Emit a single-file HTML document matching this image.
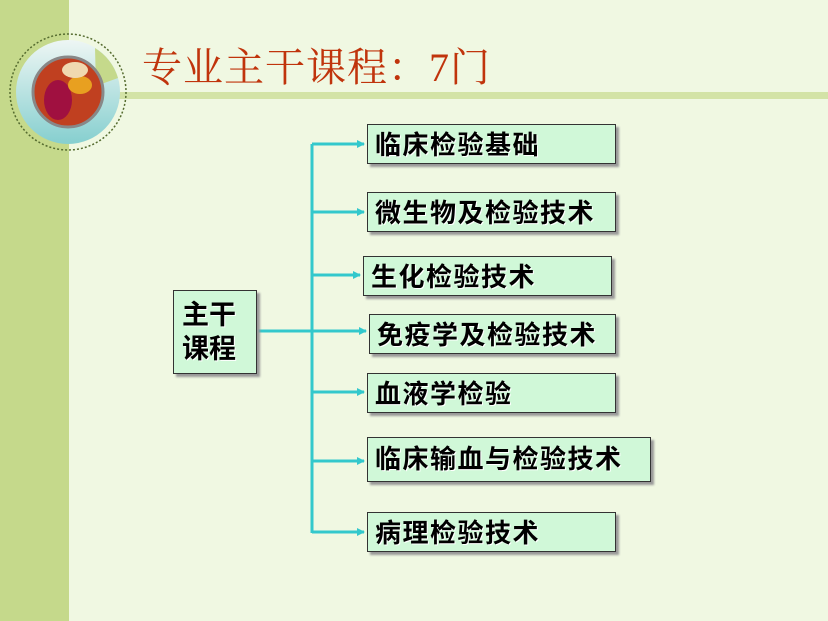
<!DOCTYPE html><html><head><meta charset="utf-8"><style>
body{margin:0;width:828px;height:621px;position:relative;overflow:hidden;background:#f0f8e2;font-family:"Liberation Sans","Noto Sans CJK SC",sans-serif}
.strip{position:absolute;left:0;top:0;width:69px;height:621px;background:#c5d98b}
.band{position:absolute;left:118px;top:92px;width:710px;height:7px;background:#d3e3a6}
.title{position:absolute;left:142px;top:36px;font-family:"Liberation Serif","Noto Serif CJK SC",serif;font-size:40px;color:#c0340c;letter-spacing:1px}
.b{position:absolute;background:#d0f8d8;border:1px solid #333;box-shadow:3px 3px 2px #999;font-weight:bold;font-size:26px;letter-spacing:1.5px;color:#000;text-shadow:1px 1px 0 #fff;line-height:40px;padding-left:7px;box-sizing:border-box;white-space:nowrap}
</style></head><body>
<div class="strip"></div><div class="band"></div>
<svg style="position:absolute;left:0;top:0" width="828" height="621">
<defs><linearGradient id="g" x1="0" y1="0" x2="0" y2="1"><stop offset="0" stop-color="#eef6f4"/><stop offset="1" stop-color="#86cfcf"/></linearGradient>
<marker id="a" markerWidth="8" markerHeight="8" refX="7" refY="4" orient="auto" markerUnits="userSpaceOnUse"><path d="M0,0L8,4L0,8z" fill="#33c8cc"/></marker></defs>
<circle cx="68" cy="92" r="58" fill="none" stroke="#556b2f" stroke-width="1.5" stroke-dasharray="2,2"/>
<circle cx="68" cy="92" r="52" fill="url(#g)"/>
<path d="M95,48 A52,52 0 0 1 118,78 L96,86 Z" fill="#c5d98b"/>
<circle cx="68" cy="92" r="35" fill="#c04020" stroke="#888" stroke-width="3"/>
<ellipse cx="58" cy="100" rx="14" ry="20" fill="#a01040"/><ellipse cx="80" cy="85" rx="12" ry="9" fill="#e8a020"/><ellipse cx="75" cy="70" rx="13" ry="8" fill="#f0d8b0"/>
<g stroke="#33c8cc" stroke-width="3" fill="none">
<line x1="312" y1="144" x2="312" y2="533"/>
<line x1="257" y1="331" x2="366" y2="331" marker-end="url(#a)"/>
<line x1="312" y1="144" x2="364" y2="144" marker-end="url(#a)"/>
<line x1="312" y1="212" x2="364" y2="212" marker-end="url(#a)"/>
<line x1="312" y1="275" x2="360" y2="275" marker-end="url(#a)"/>
<line x1="312" y1="392" x2="364" y2="392" marker-end="url(#a)"/>
<line x1="312" y1="461" x2="364" y2="461" marker-end="url(#a)"/>
<line x1="312" y1="532" x2="364" y2="532" marker-end="url(#a)"/>
</g></svg>
<div class="title">专业主干课程：7门</div>
<div class="b" style="left:173px;top:290px;width:84px;height:84px;line-height:34px;padding-top:7px;padding-left:8px;font-size:27px;letter-spacing:0">主干<br>课程</div>
<div class="b" style="left:367px;top:124px;width:249px;height:40px">临床检验基础</div>
<div class="b" style="left:367px;top:192px;width:249px;height:40px">微生物及检验技术</div>
<div class="b" style="left:363px;top:256px;width:249px;height:40px">生化检验技术</div>
<div class="b" style="left:369px;top:314px;width:247px;height:40px">免疫学及检验技术</div>
<div class="b" style="left:367px;top:373px;width:249px;height:40px">血液学检验</div>
<div class="b" style="left:367px;top:437px;width:284px;height:45px;line-height:43px">临床输血与检验技术</div>
<div class="b" style="left:367px;top:512px;width:249px;height:40px">病理检验技术</div>
</body></html>
